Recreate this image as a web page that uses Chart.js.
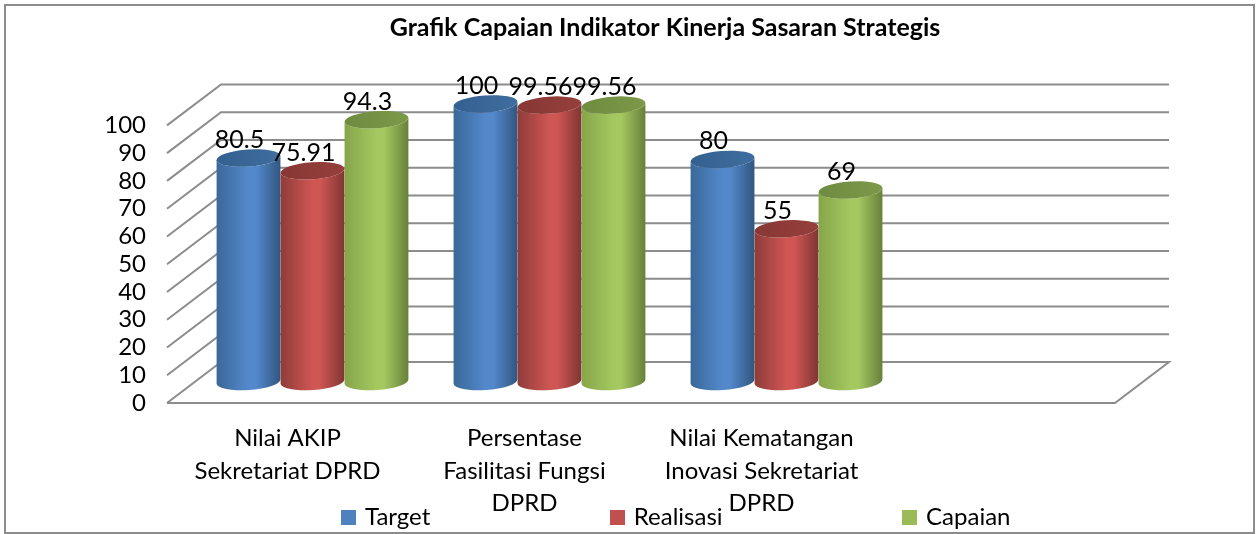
<!DOCTYPE html>
<html><head><meta charset="utf-8">
<style>html,body{margin:0;padding:0;background:#fff}#w{width:1259px;height:534px;position:relative}</style>
<script src="https://cdn.jsdelivr.net/npm/chart.js@4"></script>
</head><body><div id="w"><canvas id="c" width="1259" height="534"></canvas></div>
<script>
const categories = [["Nilai AKIP","Sekretariat DPRD"],["Persentase","Fasilitasi Fungsi","DPRD"],["Nilai Kematangan","Inovasi Sekretariat","DPRD"],""];
const target = [80.5,100,80,null];
const realisasi = [75.91,99.56,55,null];
const capaian = [94.3,99.56,69,null];
const seriesNames = ["Target","Realisasi","Capaian"];
const seriesColors = ["#4F81BD","#C0504D","#9BBB59"];
const yTicks = {min:0,max:100,step:10};
const chartTitle = "Grafik Capaian Indikator Kinerja Sasaran Strategis";

const FONT='Lato, Carlito, sans-serif';
const DX=54, DY=-41, GRID='#8c8c8c';
const shades={
 "#4F81BD":{e:"#31567f",m:"#5388cb",h:"#3a6899",t0:"#33608f",t1:"#3f6d9f"},
 "#C0504D":{e:"#7f3533",m:"#cf5653",h:"#8f3c3a",t0:"#873735",t1:"#963f3c"},
 "#9BBB59":{e:"#66803a",m:"#a5c860",h:"#86a54a",t0:"#6f8b40",t1:"#7c9848"}
};
function swatch(color){
 const c=document.createElement('canvas');c.width=15;c.height=15;
 const x=c.getContext('2d');x.fillStyle=color;x.fillRect(0,0,15,15);return c;
}
const cyl={id:'cyl',
 beforeLayout(ch){
  const l=ch.legend;
  if(l&&!l._fitPatched){
   const f=l.fit;
   l.fit=function(){f.call(this);this.height=0;};
   l._fitPatched=true;
  }
 },
 beforeDraw(ch){
  const {ctx}=ch, x=ch.scales.x, y=ch.scales.y;
  ctx.save();
  ctx.fillStyle='#fff';ctx.fillRect(0,0,1259,534);
  ctx.strokeStyle=GRID;ctx.lineWidth=2;
  ctx.strokeRect(5,5,1249,528);
  const L=x.left,R=x.right;
  y.ticks.forEach(t=>{
    const p=y.getPixelForValue(t.value);
    ctx.beginPath();ctx.moveTo(L,p);ctx.lineTo(L+DX,p+DY);ctx.lineTo(R+DX,p+DY);
    if(t.value===yTicks.min){ctx.lineTo(R,p);ctx.lineTo(L,p);}
    ctx.stroke();
  });
  ctx.restore();
  const tt=ch.titleBlock, lg=ch.legend;
  if(tt){const s=665-(tt.left+tt.right)/2;tt.left+=s;tt.right+=s;}
  if(lg){lg.left=161.5;lg.right=1800;lg.top=322.5;lg.bottom=534;}
 },
 beforeDatasetsDraw(ch){
  const {ctx}=ch;
  const dx=DX/2,dy=DY/2-1,ry=8.5,rot=-0.07;
  const n=ch.data.labels.length;
  for(let i=0;i<n;i++){
   ch.data.datasets.forEach((ds,di)=>{
    const el=ch.getDatasetMeta(di).data[i];
    if(ds.data[i]==null)return;
    const cx=el.x+dx,top=el.y+dy,bot=el.base+dy,rx=el.width/2;
    const s=shades[seriesColors[di]];
    const g=ctx.createLinearGradient(cx-rx,0,cx+rx,0);
    g.addColorStop(0,s.h);g.addColorStop(.5,s.m);g.addColorStop(.62,s.m);g.addColorStop(1,s.e);
    ctx.fillStyle=g;
    ctx.beginPath();
    ctx.ellipse(cx,bot,rx,ry,rot,Math.PI,0,true);
    ctx.ellipse(cx,top,rx,ry,rot,0,Math.PI,false);
    ctx.closePath();ctx.fill();
    const t=ctx.createLinearGradient(cx-rx,0,cx+rx,0);
    t.addColorStop(0,s.t0);t.addColorStop(1,s.t1);
    ctx.fillStyle=t;
    ctx.beginPath();ctx.ellipse(cx,top,rx,ry,rot,0,Math.PI*2);ctx.fill();
   });
  }
  return false;
 },
 afterDraw(ch){
  const {ctx}=ch;
  ctx.save();
  ctx.font='25px '+FONT;ctx.fillStyle='#000';ctx.textAlign='center';ctx.textBaseline='middle';
  ch.data.datasets.forEach((ds,di)=>{
   ch.getDatasetMeta(di).data.forEach((el,i)=>{
    if(ds.data[i]==null)return;
    ctx.fillText(String(ds.data[i]),el.x+DX/2-9,el.y+DY/2-19);
   });
  });
  ctx.restore();
 }
};
new Chart(document.getElementById('c'),{
 type:'bar',
 plugins:[cyl],
 data:{labels:categories,datasets:seriesNames.map((n,i)=>({label:n,data:[target,realisasi,capaian][i],backgroundColor:seriesColors[i]}))},
 options:{
  responsive:false,animation:false,
  devicePixelRatio:1,
  layout:{padding:{left:100,right:1259-1115,top:0,bottom:5}},
  datasets:{bar:{categoryPercentage:0.81,barPercentage:1}},
  scales:{
   x:{grid:{display:false},border:{display:false},
      ticks:{font:{family:FONT,size:24,lineHeight:1.354},color:'#000',maxRotation:0,autoSkip:false,padding:11.5,labelOffset:2},
      afterFit(s){s.height=126;}},
   y:{min:yTicks.min,max:yTicks.max,grid:{display:false},border:{display:false},
      ticks:{stepSize:yTicks.step,autoSkip:false,font:{family:FONT,size:24},color:'#000',padding:13},
      afterFit(s){s.width=67;}}
  },
  plugins:{
   title:{display:true,text:chartTitle,font:{family:FONT,size:25,weight:'bold'},color:'#000',padding:{top:13,bottom:82.4}},
   legend:{display:true,position:'bottom',align:'start',
      labels:{font:{family:FONT,size:24},color:'#000',usePointStyle:true,pointStyleWidth:9,boxWidth:15,boxHeight:15,padding:182.5,
        generateLabels(chart){
         const items=Chart.defaults.plugins.legend.labels.generateLabels(chart);
         items.forEach((it,i)=>{it.pointStyle=swatch(seriesColors[i]);});
         return items;
        }}},
   tooltip:{enabled:false}
  }
 }
});
</script></body></html>
